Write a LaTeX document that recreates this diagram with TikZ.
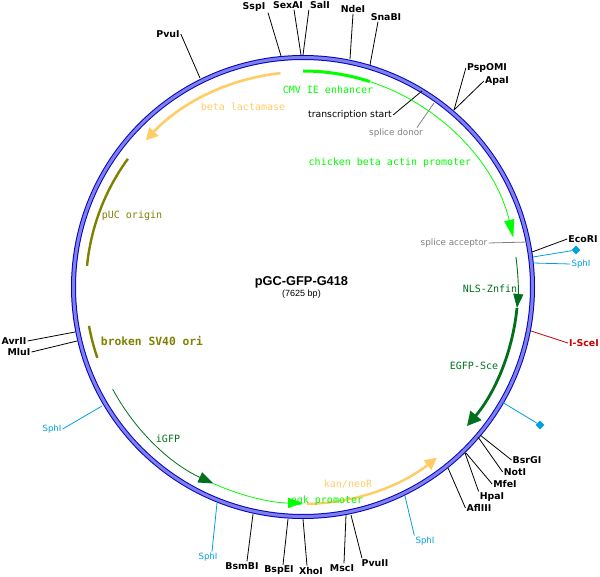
\documentclass[tikz,border=0pt]{standalone}
\usepackage{fontspec}
\usepackage{xcolor}
\usetikzlibrary{arrows.meta, positioning}
\usetikzlibrary{shapes,shapes.geometric}
\setmainfont{DejaVu Sans}
\newfontfamily\titlefont{Liberation Sans}
\newfontfamily\featfont{DejaVu Sans Mono}
\definecolor{ringblue}{HTML}{0000CC}
\definecolor{ringpale}{HTML}{8080E6}
\definecolor{orangeish}{HTML}{FFCC66}
\definecolor{limegreen}{HTML}{00FF00}
\definecolor{darkgreen}{HTML}{00701C}
\definecolor{olivish}{HTML}{808000}
\definecolor{skyline}{HTML}{00A0E0}
\definecolor{redline}{HTML}{CC0000}
\tikzset{
	site/.style={inner sep=1pt, font=\fontsize{9.4}{10}\selectfont\bfseries},
	blue site/.style={inner sep=1pt, text=skyline, font=\fontsize{8.6}{10}\selectfont},
	grey site/.style={inner sep=1pt, text=gray, font=\fontsize{8.8}{10}\selectfont},
	feat/.style={inner sep=0pt, font=\fontsize{10}{10}\featfont},
	spot/.style={diamond, fill=skyline, inner sep=0pt, minimum size=9pt},
	link/.style={draw=black, line width=0.8pt},
	blue link/.style={draw=skyline, line width=0.8pt},
	grey link/.style={draw=gray, line width=0.8pt},
	red link/.style={draw=redline, line width=0.8pt}
}

\begin{document}
\begin{tikzpicture}[x=1pt, y=1pt]
	\useasboundingbox (0,0) rectangle (600,-577);
	\coordinate (c) at (303,-287);

	\draw[ringblue, line width=5pt] (c) circle (229.5);
	\draw[ringpale, line width=3pt] (c) circle (229.5);

	\node[site] (sspI) at (254,-7) {SspI};
	\node[site] (sexAI) at (288,-5) {SexAI};
	\node[site] (salI) at (320,-5) {SalI};
	\node[site] (ndeI) at (353,-9) {NdeI};
	\node[site] (snaBI) at (386,-17) {SnaBI};
	\node[site] (pspOMI) at (487,-68) {PspOMI};
	\node[site] (apaI) at (497,-81) {ApaI};
	\node[site] (ecoRI) at (583,-239) {EcoRI};
	\node[site, text=redline] (isceI) at (584,-343) {I-SceI};
	\node[site] (bsrGI) at (527,-460) {BsrGI};
	\node[site] (notI) at (515,-472) {NotI};
	\node[site] (mfeI) at (505,-484) {MfeI};
	\node[site] (hpaI) at (492,-497) {HpaI};
	\node[site] (aflIII) at (479,-508) {AflIII};
	\node[site] (pvuII) at (375,-563) {PvuII};
	\node[site] (mscI) at (342,-568) {MscI};
	\node[site] (xhoI) at (311,-570.5) {XhoI};
	\node[site] (bspEI) at (279,-570.5) {BspEI};
	\node[site] (bsmBI) at (242,-566) {BsmBI};
	\node[site] (mluI) at (19,-352) {MluI};
	\node[site] (avrII) at (14,-341) {AvrII};
	\node[site] (pvuI) at (168,-34) {PvuI};

	\node[blue site] (sphIa) at (581,-264) {SphI};
	\node[blue site] (sphIb) at (425,-541) {SphI};
	\node[blue site] (sphIc) at (208,-557) {SphI};
	\node[blue site] (sphId) at (52,-429) {SphI};
	\node[spot] (spotA) at (576,-250) {};
	\node[spot] (spotB) at (540,-425) {};

	\node[inner sep=1pt, font=\fontsize{9.3}{10}\selectfont] (start) at (350,-115) {transcription start};
	\node[grey site] (donor) at (396,-133) {splice donor};
	\node[grey site] (acceptor) at (454,-243) {splice acceptor};

	\coordinate (sspIr) at (281,-56);
	\coordinate (sexAIr) at (301,-55);
	\coordinate (salIr) at (303,-55);
	\coordinate (ndeIr) at (350,-59);
	\coordinate (snaBIr) at (370,-65);
	\coordinate (startr) at (422,-91);
	\coordinate (donorr) at (434,-103);
	\coordinate (pspOMIr) at (454,-110);
	\coordinate (apaIr) at (454,-110);
	\coordinate (acceptorr) at (528,-242);
	\coordinate (ecoRIr) at (532,-252);
	\coordinate (spotAr) at (533,-257);
	\coordinate (sphIar) at (533,-263);
	\coordinate (isceIr) at (531,-331);
	\coordinate (spotBr) at (502,-402);
	\coordinate (bsrGIr) at (480,-435);
	\coordinate (notIr) at (478,-437);
	\coordinate (mfeIr) at (466,-453);
	\coordinate (hpaIr) at (465,-453);
	\coordinate (aflIIIr) at (448,-468);
	\coordinate (sphIbr) at (405,-496);
	\coordinate (pvuIIr) at (351,-515);
	\coordinate (mscIr) at (346,-515);
	\coordinate (xhoIr) at (303,-519);
	\coordinate (bspEIr) at (288,-519);
	\coordinate (bsmBIr) at (253,-514);
	\coordinate (sphIcr) at (217,-503);
	\coordinate (sphIdr) at (102,-406);
	\coordinate (mluIr) at (77,-341);
	\coordinate (avrIIr) at (75,-332);
	\coordinate (pvuIr) at (200,-78);

	\draw[link] ([xshift=14pt]sspI.south) -- (sspIr);
	\draw[link] ([xshift=6pt]sexAI.south) -- (sexAIr);
	\draw[link] (salI.south west) -- (salIr);
	\draw[link] (ndeI.south) -- (ndeIr);
	\draw[link] ([xshift=-8pt]snaBI.south) -- (snaBIr);
	\draw[link] (start.east) -- (startr);
	\draw[grey link] ([xshift=21pt]donor.north) -- (donorr);
	\draw[link] (pspOMI.west) -- (pspOMIr);
	\draw[link] (apaI.west) -- (apaIr);
	\draw[grey link] (acceptor.east) -- (acceptorr);
	\draw[link] (ecoRI.west) -- (ecoRIr);
	\draw[blue link] (spotA) -- (spotAr);
	\draw[blue link] (sphIa.west) -- (sphIar);
	\draw[red link] (isceI.west) -- (isceIr);
	\draw[blue link] (spotB) -- (spotBr);
	\draw[link] (bsrGI.west) -- (bsrGIr);
	\draw[link] (notI.west) -- (notIr);
	\draw[link] (mfeI.west) -- (mfeIr);
	\draw[link] (hpaI.north west) -- (hpaIr);
	\draw[link] (aflIII.west) -- (aflIIIr);
	\draw[blue link] (sphIb.north west) -- (sphIbr);
	\draw[link] ([xshift=-13pt]pvuII.north) -- (pvuIIr);
	\draw[link] ([xshift=2pt]mscI.north) -- (mscIr);
	\draw[link] ([xshift=-4pt]xhoI.north) -- (xhoIr);
	\draw[link] ([xshift=4pt]bspEI.north) -- (bspEIr);
	\draw[link] ([xshift=5pt]bsmBI.north) -- (bsmBIr);
	\draw[blue link] ([xshift=4pt]sphIc.north) -- (sphIcr);
	\draw[blue link] (sphId.east) -- (sphIdr);
	\draw[link] (mluI.east) -- (mluIr);
	\draw[link] (avrII.east) -- (avrIIr);
	\draw[link] (pvuI.east) -- (pvuIr);

	\draw[orangeish, line width=2.6pt, -{Triangle[length=12pt, width=12pt]}] ([shift={(96:215)}]c) arc[start angle=96, end angle=137, radius=215];
	\draw[limegreen, line width=3pt] ([shift={(90:216)}]c) arc[start angle=90, end angle=72, radius=216];
	\draw[limegreen, line width=0.8pt, -{Triangle[length=18pt, width=10pt]}] ([shift={(72:216)}]c) arc[start angle=72, end angle=13.2, radius=216];
	\draw[darkgreen, line width=0.9pt, -{Triangle[length=14pt, width=10pt]}] ([shift={(8:215)}]c) arc[start angle=8, end angle=-5.6, radius=215];
	\draw[darkgreen, line width=2.8pt, -{Triangle[length=14pt, width=14pt]}] ([shift={(-5.6:215)}]c) arc[start angle=-5.6, end angle=-40.3, radius=215];
	\draw[darkgreen, line width=0.8pt, -{Triangle[length=15pt, width=11pt]}] ([shift={(208.2:216)}]c) arc[start angle=208.2, end angle=245.5, radius=216];
	\draw[limegreen, line width=0.8pt, -{Triangle[length=15pt, width=10pt]}] ([shift={(245.5:216)}]c) arc[start angle=245.5, end angle=270, radius=216];
	\draw[orangeish, line width=2.4pt, -{Triangle[length=12pt, width=12pt]}] ([shift={(271:217)}]c) arc[start angle=271, end angle=308.1, radius=217];
	\draw[olivish, line width=2.4pt] ([shift={(143.8:217)}]c) arc[start angle=143.8, end angle=174.4, radius=217];
	\draw[olivish, line width=2.4pt] ([shift={(190.3:217.5)}]c) arc[start angle=190.3, end angle=199, radius=217.5];

	\node[feat, text=limegreen] (cmv) at (328,-90) {CMV IE enhancer};
	\node[feat, text=orangeish] (bla) at (243,-107) {beta lactamase};
	\node[feat, text=limegreen] (actin) at (390,-163) {chicken beta actin promoter};
	\node[feat, text=olivish] (puc) at (132,-216) {pUC origin};
	\node[feat, text=olivish, font=\fontsize{11.3}{10}\featfont\bfseries] (sv40) at (152,-341) {broken SV40 ori};
	\node[feat, text=darkgreen] (nls) at (490,-289) {NLS-Znfin};
	\node[feat, text=darkgreen] (egfp) at (474,-366) {EGFP-Sce};
	\node[feat, text=darkgreen] (igfp) at (168,-439) {iGFP};
	\node[feat, text=orangeish] (kan) at (348,-484) {kan/neoR};
	\node[feat, text=limegreen] (pgk) at (327,-501) {pgk promoter};

	\node[inner sep=0pt, font=\fontsize{12.8}{12}\titlefont\bfseries] (name) at (301.5,-282) {pGC-GFP-G418};
	\node[inner sep=0pt, below=1.5pt of name, font=\fontsize{9}{10}\titlefont] (size) {(7625 bp)};
\end{tikzpicture}
\end{document}
